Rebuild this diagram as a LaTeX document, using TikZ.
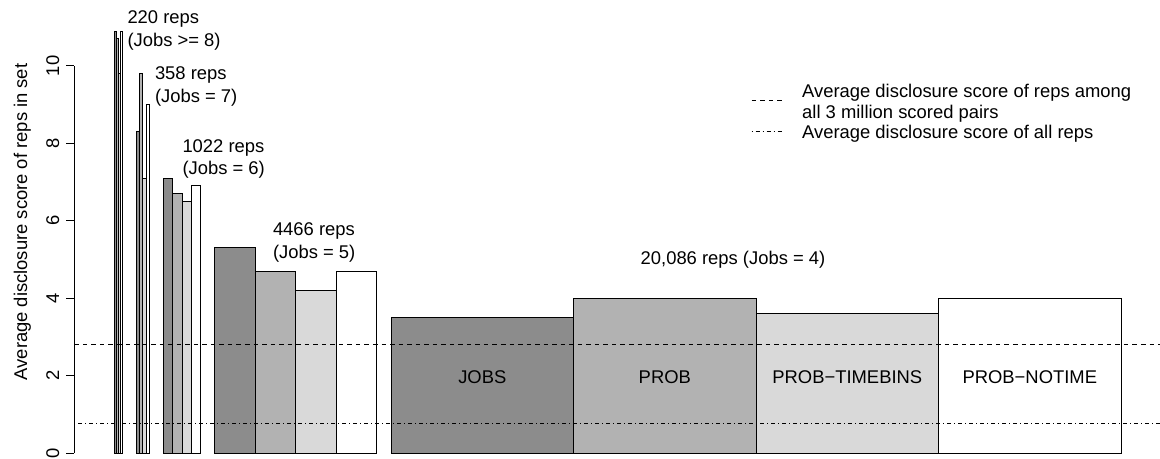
\documentclass[tikz,border=0pt]{standalone}
\usepackage{fontspec}
\setmainfont{Liberation Sans}
\definecolor{jobsgray}{gray}{0.55}
\definecolor{probgray}{gray}{0.70}
\definecolor{binsgray}{gray}{0.85}
\tikzset{every picture/.style={line width=0.75pt}}
\tikzset{
  jobsbar/.style={draw=black, fill=jobsgray},
  probbar/.style={draw=black, fill=probgray},
  binsbar/.style={draw=black, fill=binsgray},
  notimebar/.style={draw=black, fill=white},
  pairsline/.style={dash pattern={on 3.4pt off 3pt}},
  allrepsline/.style={dash pattern={on 0.75pt off 2.25pt on 3pt off 2.25pt}},
  plottext/.style={inner sep=0pt, font=\fontsize{13.8}{16.5}\selectfont}
}

\begin{document}
\begin{tikzpicture}[x=0.75pt,y=0.75pt,yscale=-1]
	\useasboundingbox (0,0) rectangle (1160,459);

	%Bars: Jobs >= 8
	\draw [jobsbar]   (114.3,453) rectangle (116.3,31.2) ;
	\draw [probbar]   (116.3,453) rectangle (118.3,38.9) ;
	\draw [binsbar]   (118.3,453) rectangle (120.3,73.7) ;
	\draw [notimebar] (120.3,453) rectangle (122.3,31.2) ;
	%Bars: Jobs = 7
	\draw [jobsbar]   (136.4,453) rectangle (139.6,131.8) ;
	\draw [probbar]   (139.6,453) rectangle (142.9,73.7) ;
	\draw [binsbar]   (142.9,453) rectangle (146.1,178.2) ;
	\draw [notimebar] (146.1,453) rectangle (149.4,104.7) ;
	%Bars: Jobs = 6
	\draw [jobsbar]   (163.4,453) rectangle (172.7,178.2) ;
	\draw [probbar]   (172.7,453) rectangle (182.0,193.7) ;
	\draw [binsbar]   (182.0,453) rectangle (191.3,201.5) ;
	\draw [notimebar] (191.3,453) rectangle (200.6,186.0) ;
	%Bars: Jobs = 5
	\draw [jobsbar]   (214.6,453) rectangle (255.2,247.9) ;
	\draw [probbar]   (255.2,453) rectangle (295.8,271.1) ;
	\draw [binsbar]   (295.8,453) rectangle (336.4,290.5) ;
	\draw [notimebar] (336.4,453) rectangle (376.9,271.1) ;
	%Bars: Jobs = 4
	\draw [jobsbar]   (391.0,453) rectangle (573.5,317.6) ;
	\draw [probbar]   (573.5,453) rectangle (756.0,298.2) ;
	\draw [binsbar]   (756.0,453) rectangle (938.5,313.7) ;
	\draw [notimebar] (938.5,453) rectangle (1121.0,298.2) ;

	%Reference lines
	\draw [pairsline]   (74.3,344.6) -- (1160,344.6) ;
	\draw [allrepsline] (74.3,424.0) -- (1160,424.0) ;

	%Y axis
	\draw    (74.3,453) -- (74.3,66) ;
	\draw    (66,453) -- (74.3,453) ;
	\draw    (66,375.6) -- (74.3,375.6) ;
	\draw    (66,298.2) -- (74.3,298.2) ;
	\draw    (66,220.8) -- (74.3,220.8) ;
	\draw    (66,143.4) -- (74.3,143.4) ;
	\draw    (66,66) -- (74.3,66) ;
	% Text Node
	\draw (59,453) node [plottext, anchor=base, rotate=90] (tick0) {0};
	\draw (59,375.6) node [plottext, anchor=base, rotate=90] (tick2) {2};
	\draw (59,298.2) node [plottext, anchor=base, rotate=90] (tick4) {4};
	\draw (59,220.8) node [plottext, anchor=base, rotate=90] (tick6) {6};
	\draw (59,143.4) node [plottext, anchor=base, rotate=90] (tick8) {8};
	\draw (59,66) node [plottext, anchor=base, rotate=90] (tick10) {10};
	% Text Node
	\draw (27,222) node [plottext, anchor=base, rotate=90] (ylabel) {Average disclosure score of reps in set};

	% Text Node
	\draw (127,23.6) node [plottext, anchor=base west] (reps8) {220 reps};
	\draw (127,46.6) node [plottext, anchor=base west] (jobs8) {(Jobs >= 8)};
	% Text Node
	\draw (154.5,79.3) node [plottext, anchor=base west] (reps7) {358 reps};
	\draw (154.5,102.3) node [plottext, anchor=base west] (jobs7) {(Jobs = 7)};
	% Text Node
	\draw (182,152.3) node [plottext, anchor=base west] (reps6) {1022 reps};
	\draw (182,174.9) node [plottext, anchor=base west] (jobs6) {(Jobs = 6)};
	% Text Node
	\draw (272.5,235.6) node [plottext, anchor=base west] (reps5) {4466 reps};
	\draw (272.5,258.3) node [plottext, anchor=base west] (jobs5) {(Jobs = 5)};
	% Text Node
	\draw (733,264.6) node [plottext, anchor=base] (reps4) {20,086 reps (Jobs = 4)};

	% Text Node
	\draw (482.3,383.6) node [plottext, anchor=base] (jobsname) {JOBS};
	\draw (664.8,383.6) node [plottext, anchor=base] (probname) {PROB};
	\draw (847.3,383.6) node [plottext, anchor=base] (binsname) {PROB\textminus TIMEBINS};
	\draw (1029.8,383.6) node [plottext, anchor=base] (notimename) {PROB\textminus NOTIME};

	%Legend
	\coordinate (pairsa) at (751.7,101) ;
	\coordinate (pairsb) at (783.3,101) ;
	\coordinate (allrepsa) at (751.7,132) ;
	\coordinate (allrepsb) at (783.3,132) ;
	\draw [pairsline]   (pairsa) -- (pairsb) ;
	\draw [allrepsline] (allrepsa) -- (allrepsb) ;
	% Text Node
	\draw (801.7,97.6) node [plottext, anchor=base west] (pairsone) {Average disclosure score of reps among};
	\draw (801.7,118.1) node [plottext, anchor=base west] (pairstwo) {all 3 million scored pairs};
	\draw (801.7,138.6) node [plottext, anchor=base west] (allreps) {Average disclosure score of all reps};
\end{tikzpicture}
\end{document}
